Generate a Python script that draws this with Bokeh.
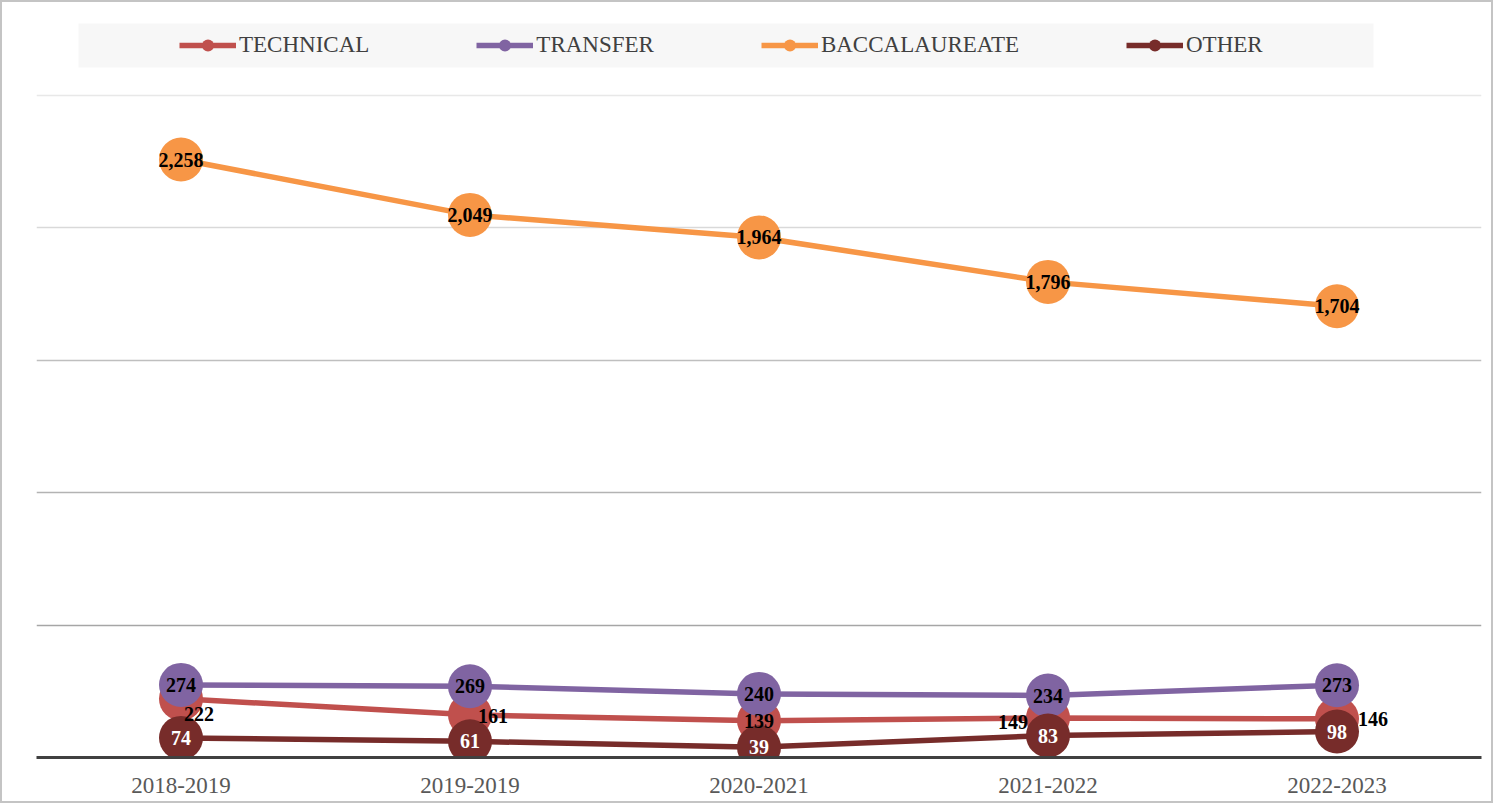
from bokeh.plotting import figure
from bokeh.models import (ColumnDataSource, LabelSet, Legend, LegendItem, Grid,
                          FixedTicker, BoxAnnotation, Range1d, FactorRange)
from bokeh.embed import file_html
from bokeh.resources import INLINE

# ---------------- data ----------------
years = ["2018-2019", "2019-2019", "2020-2021", "2021-2022", "2022-2023"]
technical = [222, 161, 139, 149, 146]
transfer = [274, 269, 240, 234, 273]
baccalaureate = [2258, 2049, 1964, 1796, 1704]
other = [74, 61, 39, 83, 98]
series_names = ["TECHNICAL", "TRANSFER", "BACCALAUREATE", "OTHER"]
grid_values = [500, 1000, 1500, 2000, 2500]

# ---------------- styles ----------------
colors = ["#C0504D", "#8064A2", "#F79646", "#772C2A"]
label_colors = ["black", "black", "black", "white"]
grid_colors = ["#a6a6a6", "#b3b3b3", "#bfbfbf", "#d9d9d9", "#e8e8e8"]
# per-point label placement of TECHNICAL values (pixels)
tech_dx = [3, 8, 0, -20, 21]
tech_dy = [-15, -1, 0, -4, 0]
tech_align = ["left", "left", "center", "right", "left"]

FONT = "Liberation Serif"
W, H = 1493, 803

p = figure(x_range=FactorRange(factors=years, range_padding=0),
           y_range=Range1d(0, 2783),
           width=W, height=H, output_backend="svg", toolbar_location=None,
           min_border_left=34, min_border_right=14, min_border_top=18,
           min_border_bottom=48)
p.styles = {"border": "2px solid #c4c4c4"}
p.outline_line_color = None
p.xgrid.visible = False
p.ygrid.visible = False
p.yaxis.visible = False

for v, c in zip(grid_values, grid_colors):
    p.add_layout(Grid(dimension=1, ticker=FixedTicker(ticks=[v]),
                      grid_line_color=c, grid_line_width=1.3))

xa = p.xaxis[0]
xa.axis_line_color = "#404040"
xa.axis_line_width = 3
xa.major_tick_line_color = None
xa.minor_tick_line_color = None
xa.major_label_text_font = FONT
xa.major_label_text_font_size = "23px"
xa.major_label_text_color = "#595959"
xa.major_label_standoff = 14

data = dict(x=years, technical=technical, transfer=transfer,
            baccalaureate=baccalaureate, other=other,
            tech_dx=tech_dx, tech_dy=tech_dy, tech_align=tech_align)
cols = ["technical", "transfer", "baccalaureate", "other"]
for c, vals in zip(cols, [technical, transfer, baccalaureate, other]):
    data[c + "_txt"] = [f"{v:,}" for v in vals]
src = ColumnDataSource(data)

# legend background
p.add_layout(BoxAnnotation(left=74, right=1369, top=19, bottom=63,
                           left_units="canvas", right_units="canvas",
                           top_units="canvas", bottom_units="canvas",
                           fill_color="#f7f7f7", fill_alpha=1,
                           line_color=None, level="underlay"))

items = []
for name, col, color in zip(series_names, cols, colors):
    l = p.line("x", col, source=src, line_color=color, line_width=5.5)
    s = p.scatter("x", col, source=src, size=44, fill_color=color,
                  line_color=None)
    items.append(LegendItem(label=name, renderers=[l, s]))

for col, lc in zip(cols, label_colors):
    if col == "technical":
        ls = LabelSet(x="x", y=col, text=col + "_txt", source=src,
                      x_offset="tech_dx", y_offset="tech_dy",
                      text_align="tech_align", text_baseline="middle",
                      text_font=FONT, text_font_size="20px",
                      text_font_style="bold", text_color=lc)
    else:
        ls = LabelSet(x="x", y=col, text=col + "_txt", source=src,
                      text_align="center", text_baseline="middle",
                      text_font=FONT, text_font_size="20px",
                      text_font_style="bold", text_color=lc)
    p.add_layout(ls)

legend = Legend(items=items, orientation="horizontal", location=(143, 697),
                label_text_font=FONT, label_text_font_size="23px",
                label_text_color="#404040", glyph_width=57, glyph_height=30,
                label_standoff=3, spacing=107, padding=7, margin=0,
                background_fill_alpha=0, border_line_color=None)
p.add_layout(legend)

open("out.html", "w").write(file_html(p, INLINE))
